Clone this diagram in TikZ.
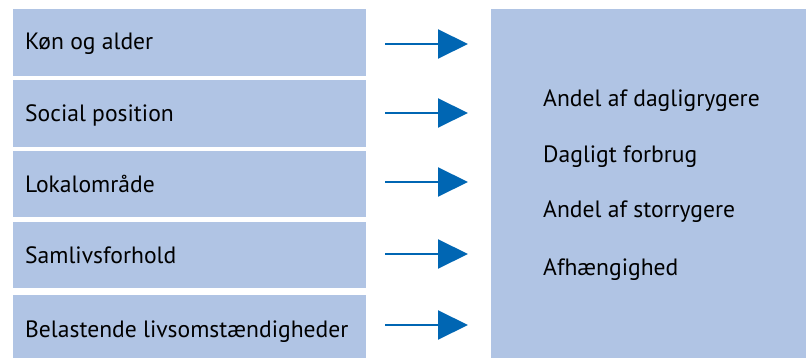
\documentclass[tikz,border=0pt]{standalone}
\usepackage{fontspec}
\setmainfont{PT Sans}
\usetikzlibrary{arrows.meta}
\definecolor{boxblue}{RGB}{176,196,228}
\definecolor{arrowblue}{RGB}{0,102,179}
\tikzset{
  leftbox/.style={fill=boxblue, draw=none, anchor=north west, minimum width=353pt, inner sep=0pt},
  lbl/.style={anchor=base west, inner sep=0pt, font=\fontsize{23.6}{28}\selectfont, text=black},
  conn/.style={draw=arrowblue, line width=2pt, -{Triangle[length=30pt, width=29pt]}}
}
\begin{document}
\begin{tikzpicture}[x=1pt,y=-1pt]
\useasboundingbox (0,0) rectangle (811,358);
\node[leftbox, minimum height=67pt] (b1) at (13,9) {};
\node[leftbox, minimum height=67pt] (b2) at (13,80) {};
\node[leftbox, minimum height=66pt] (b3) at (13,151) {};
\node[leftbox, minimum height=66pt] (b4) at (13,222) {};
\node[leftbox, minimum height=63pt] (b5) at (13,295) {};
\node[fill=boxblue, draw=none, anchor=north west, minimum width=315pt, minimum height=349pt, inner sep=0pt] (r) at (491,9) {};
\node[lbl] (t1) at (25,50) {Køn og alder};
\node[lbl] (t2) at (25,122) {Social position};
\node[lbl] (t3) at (25,193) {Lokalområde};
\node[lbl] (t4) at (25,263) {Samlivsforhold};
\node[lbl] (t5) at (25,337) {Belastende livsomstændigheder};
\node[lbl] (o1) at (543,107) {Andel af dagligrygere};
\node[lbl] (o2) at (543,163) {Dagligt forbrug};
\node[lbl] (o3) at (543,218) {Andel af storrygere};
\node[lbl] (o4) at (543,275) {Afhængighed};
\coordinate (s1) at (385,44); \coordinate (e1) at (468,44);
\coordinate (s2) at (385,113); \coordinate (e2) at (468,113);
\coordinate (s3) at (385,182); \coordinate (e3) at (468,182);
\coordinate (s4) at (385,254); \coordinate (e4) at (468,254);
\coordinate (s5) at (385,325); \coordinate (e5) at (468,325);
\foreach \i in {1,...,5} { \draw[conn] (s\i) -- (e\i); }
\end{tikzpicture}
\end{document}
